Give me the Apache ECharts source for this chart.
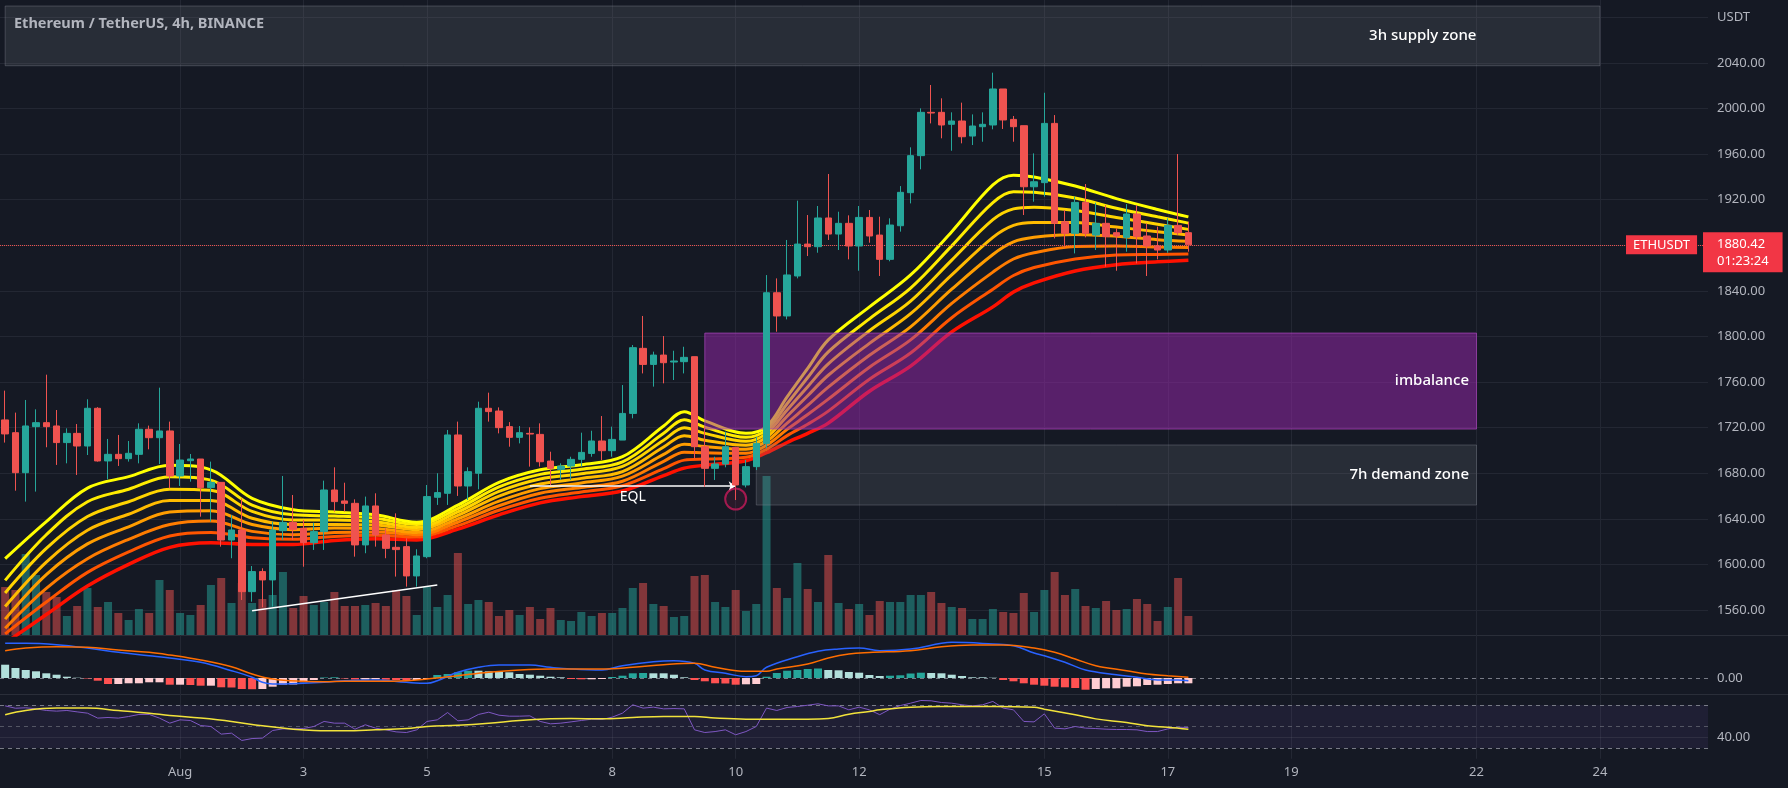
<!DOCTYPE html>
<html><head><meta charset="utf-8">
<script src="https://cdn.jsdelivr.net/npm/echarts@6/dist/echarts.min.js"></script>
<style>html,body{margin:0;padding:0;background:#151924;}#c{width:1788px;height:788px;}</style>
</head><body><div id="c"></div>
<script>
// ---------- DATA ----------
const opens = [1726.8,1715.6,1680.5,1720.9,1724.4,1721.5,1706.9,1715.0,1703.9,1737.0,
1690.8,1696.6,1692.8,1696.6,1718.6,1711.2,1717.1,1677.6,1691.0,1692.5,
1667.4,1672.0,1621.4,1630.2,1576.1,1593.7,1586.4,1629.6,1636.9,1631.7,
1619.1,1628.8,1665.3,1655.7,1653.6,1617.1,1651.3,1625.8,1615.0,1615.6,
1589.9,1606.8,1658.9,1662.4,1713.6,1668.8,1680.0,1737.0,1734.6,1720.9,
1711.5,1715.0,1714.1,1690.7,1683.4,1686.3,1692.2,1697.4,1708.3,1699.8,
1709.1,1732.5,1789.6,1775.5,1783.7,1777.6,1777.9,1782.3,1703.3,1684.3,
1688.1,1702.7,1669.7,1685.8,1706.2,1838.4,1818.0,1853.1,1881.1,1878.8,
1904.0,1889.9,1899.3,1879.4,1904.5,1889.0,1867.7,1897.2,1926.2,1958.7,
1996.7,1996.7,1986.2,1989.1,1975.9,1984.1,1985.6,2017.2,1990.5,1985.0,
1931.4,1935.0,1987.0,1900.7,1890.5,1917.7,1889.0,1899.3,1891.1,1887.0,
1907.5,1888.2,1879.4,1875.9,1897.5,1891.1];
const closes = [1714.5,1680.5,1721.5,1724.4,1720.9,1706.9,1715.0,1703.9,1737.0,1690.8,
1696.6,1692.8,1697.5,1718.6,1711.2,1717.1,1677.6,1691.6,1692.5,1667.4,
1672.0,1621.4,1630.2,1576.1,1593.7,1586.4,1630.2,1636.9,1630.8,1619.1,
1628.8,1665.3,1655.1,1653.6,1617.1,1651.3,1625.8,1614.1,1613.0,1589.9,
1607.4,1659.5,1663.0,1713.6,1668.8,1681.4,1737.0,1734.1,1720.0,1711.5,
1715.6,1714.4,1690.1,1684.3,1686.3,1692.2,1698.3,1708.3,1699.8,1709.7,
1732.5,1790.2,1775.5,1783.7,1777.0,1778.5,1781.7,1703.3,1684.3,1688.1,
1703.3,1669.7,1685.8,1706.2,1838.4,1818.0,1854.0,1881.1,1878.8,1904.0,
1889.9,1899.3,1879.4,1904.5,1888.2,1867.7,1897.8,1926.5,1958.7,1996.7,
1996.1,1985.6,1989.1,1975.3,1984.7,1986.2,2017.2,1990.0,1984.1,1931.4,
1935.8,1987.0,1899.3,1890.5,1917.7,1890.5,1899.3,1887.6,1888.2,1907.5,
1887.6,1879.4,1875.9,1897.5,1891.1,1880.42];
const lows = [1706.9,1664.7,1655.1,1663.9,1702.8,1687.3,1688.7,1678.5,1696.0,1690.2,
1674.7,1686.4,1690.2,1688.7,1701.0,1688.1,1666.8,1668.8,1672.6,1641.9,
1637.5,1615.6,1605.4,1568.8,1567.3,1562.4,1563.0,1621.4,1621.4,1598.0,
1612.7,1612.7,1646.3,1646.3,1606.8,1609.8,1615.6,1605.4,1589.3,1580.5,
1580.5,1605.4,1652.2,1652.2,1660.1,1656.5,1665.9,1725.3,1715.0,1703.3,
1706.2,1685.8,1685.8,1669.7,1674.1,1674.1,1685.8,1694.5,1691.6,1694.5,
1709.1,1728.2,1767.6,1756.0,1758.9,1761.8,1767.6,1693.1,1668.2,1674.1,
1685.2,1656.5,1667.6,1682.8,1702.0,1804.2,1815.0,1851.0,1870.6,1873.5,
1884.7,1875.9,1867.7,1857.7,1882.3,1853.1,1866.0,1892.0,1916.8,1946.7,
1987.0,1973.9,1963.0,1969.5,1968.0,1970.9,1981.8,1982.1,1970.9,1906.6,
1918.3,1922.7,1886.1,1878.2,1872.9,1887.0,1875.9,1861.3,1857.7,1874.4,
1864.2,1853.1,1867.7,1873.5,1889.0,1874.4];
const highs = [1752.5,1733.2,1744.3,1736.1,1766.5,1735.5,1719.4,1723.2,1744.9,1738.0,
1710.1,1713.6,1708.3,1723.8,1721.8,1755.1,1725.3,1705.7,1696.9,1692.5,
1690.2,1672.0,1643.4,1658.0,1598.6,1596.6,1637.5,1677.6,1660.9,1639.0,
1636.6,1673.5,1685.2,1671.7,1657.1,1659.5,1662.4,1631.7,1644.8,1622.9,
1613.3,1669.7,1680.0,1718.0,1725.3,1685.2,1742.8,1750.7,1737.8,1724.9,
1721.4,1720.3,1723.8,1698.9,1688.7,1694.5,1715.6,1717.3,1730.2,1720.9,
1757.4,1792.5,1818.0,1786.7,1800.4,1787.5,1791.0,1782.3,1720.9,1694.5,
1716.5,1702.7,1691.6,1712.1,1853.9,1851.0,1884.7,1919.2,1906.6,1914.5,
1942.6,1909.5,1906.3,1914.5,1911.0,1905.1,1903.7,1932.0,1966.0,2000.2,
2020.7,2009.0,1996.7,2005.2,1994.9,1996.7,2031.5,2017.2,1993.5,1985.0,
1960.7,2013.9,1994.3,1911.0,1922.7,1933.8,1917.4,1915.4,1894.9,1916.2,
1915.4,1899.3,1896.4,1903.7,1960.1,1900.7];
const volumesK = [48,45,81,60,43,38,19,29,47,28,33,22,15,26,22,55,45,22,20,30,
50,57,32,52,32,36,40,63,27,39,30,33,43,29,29,30,32,29,45,39,
20,48,28,40,82,31,35,33,19,25,20,28,16,27,15,14,23,19,22,22,
27,47,52,31,29,18,19,59,60,33,28,45,24,31,159,47,37,72,46,33,
80,32,26,31,20,34,33,33,40,40,43,32,28,27,16,16,26,23,22,42,
23,45,63,40,46,29,27,34,25,26,36,31,14,28,57,19];
// EMA ribbon (8 lines, fast -> slow), sampled at candle indices
const ribbonIdx = [0,4,8,12,16,20,24,28,32,36,40,44,48,52,56,60,64,66,68,72,74,76,78,80,84,88,92,96,98,100,104,108,112,115];
const ribbon1 = [1605,1637.5,1667,1677,1687,1683,1658,1648,1646,1643.5,1637,1652,1672,1683,1687.5,1694.5,1721.5,1734,1726,1715,1721,1747,1772,1797,1826,1854,1892,1933,1941.5,1940,1932,1921,1911.5,1905];
const ribbon2 = [1586,1626,1655,1666,1677,1674,1652,1643.5,1642.5,1640.5,1635,1649,1668,1679,1683.5,1690,1715,1727,1720.5,1711.5,1718,1741,1764,1786.5,1815.5,1842.5,1879.5,1917.5,1927,1926.5,1921.5,1912.5,1905,1899.5];
const ribbon3 = [1575,1614,1642,1655,1666,1665,1646.5,1639,1639,1637.5,1632.5,1646,1664,1675,1679.5,1686,1709,1720,1715,1708,1715,1735.5,1756,1776,1805,1831,1867,1902.5,1912,1913.5,1910.5,1904.5,1898.5,1894];
const ribbon4 = [1563,1602,1630,1644,1656,1656,1640.5,1635,1635,1634.5,1630.5,1643,1660,1670.5,1675.5,1681.5,1703,1713,1709,1704.5,1711.5,1730,1748,1766,1794,1820,1854,1887,1897.5,1900,1900,1896,1892,1889];
const ribbon5 = [1552,1591,1618,1633,1646,1647,1635,1630.5,1632,1631.5,1628,1640,1655.5,1666.5,1671.5,1677.5,1696.5,1705.5,1703.5,1701,1708,1724,1739.5,1755.5,1783.5,1808.5,1841.5,1872,1883,1887,1889.5,1888,1885,1883.5];
const ribbon6 = [1544,1579,1605,1622,1635,1638,1629,1626,1628,1628.5,1626,1637,1651.5,1662.5,1667.5,1673,1690.5,1698.5,1698,1697.5,1704.5,1718.5,1731.5,1745,1773,1797,1829,1856.5,1868,1873.5,1879,1879.5,1878.5,1878];
const ribbon7 = [1539,1567,1593,1611,1625,1628,1623.5,1622,1624.5,1625.5,1624,1634,1647.5,1658,1663.5,1669,1684,1691.5,1692.5,1694,1701,1713,1723,1734.5,1762.5,1785.5,1816.5,1841.5,1853.5,1860.5,1868,1871.5,1872,1872.5];
const ribbon8 = [1531,1556,1581,1600,1615,1619,1617.5,1617.5,1621,1622.5,1621.5,1631,1643.5,1654,1659.5,1664.5,1678,1684.5,1687,1691,1698,1707,1715,1724,1752,1774,1804,1826,1839,1847,1857.5,1863,1865.5,1867];
// MACD
const macdHist = [13.3,10,8,6.7,4.7,3.3,1.3,0.3,-0.5,-2.7,-6,-6,-5.3,-5.3,-4.3,-4.3,-6.7,-6.7,-7,-7.7,
-7.7,-9.3,-9.5,-11,-11.2,-11,-8.7,-6.7,-6.5,-4.3,-2,0.5,0.7,-0.5,-1.5,-1.5,-1.3,-1.7,-2,-2.3,
-2,-1,3,4,5.7,7.3,7.3,6.7,6.3,5.7,4,3.3,2.3,1.3,0.7,-1,-1.3,-1.3,-1,1,
2.3,4.7,5,4.7,4.7,3.3,0.7,-2,-3.3,-5.3,-5.5,-6.7,-6.3,-6,1.3,5,7.3,8,9,9.5,
8,7.7,6,5.3,3,2,2.3,2.7,4.5,5.3,5,4.7,3.3,2,0.7,0.7,0.3,-2,-3.3,-5.3,
-6.7,-7.7,-8.7,-9.3,-10,-11.7,-11,-10.3,-10.3,-8.7,-8.3,-7,-6.7,-6,-5.3,-5.3];
const macdLine = [[0,34.7],[2,34.7],[5,33.3],[8,30],[11,25.7],[14,22.3],[16,20],[19,15.7],[22,7.3],[24,0.7],[25,-4.3],[26,-6],[29,-5.3],[31,-4.3],[33,-2.7],[36,-2],[39,-4.3],[41,-5.3],[42,-2.7],[44,5.7],[46,10.7],[48,13],[51,13],[53,10.7],[55,9],[58,8],[60,12.3],[63,16.3],[65,17.3],[67,14.7],[68,8],[70,4.7],[72,1.3],[73,2.3],[74,10.7],[77,21.3],[79,26.7],[81,29],[83,30],[85,27.3],[88,29],[91,34.7],[92,35.7],[96,34],[98,32.3],[100,25],[101,22.3],[103,15.7],[105,8],[108,3.3],[110,0.7],[112,-2],[114,-2],[115,-2.7]];
const signalLine = [[0,27.3],[2,30],[5,31.3],[8,30.7],[11,28],[14,25.7],[16,23],[19,18],[22,11.3],[24,4],[26,-1],[29,-3.3],[31,-3.7],[33,-3.3],[36,-3.3],[39,-2.7],[41,-1],[44,2.3],[47,5.7],[50,8],[53,9],[55,9],[58,9],[61,10.7],[64,13.3],[67,14.7],[69,10.7],[72,6.7],[74,6.7],[75,9],[78,14],[80,20],[82,24],[84,25.5],[88,27.3],[91,31.3],[94,33],[97,33],[100,30],[102,25.7],[104,19],[106,12.3],[109,7.3],[111,4],[113,2.3],[115,0.7]];
// RSI
const rsi = [69.2,67,67.4,66.4,64.9,64.3,64.9,63.6,62.4,57.8,
58.4,57.8,59.3,61.2,61.2,57.8,53.1,56.2,55.6,50.9,
50,42.9,43.8,37,38.8,39.2,46.3,47.8,47.8,48.1,
50,54.7,53.1,53.1,47.5,51.6,48.5,46.9,45,44.4,
46.9,54.7,56.2,63,55.3,56.2,61.2,63.3,60.5,59.6,
59.6,59.9,54.7,52.5,53.1,54.3,55.6,56.8,56.5,58.7,
62.4,70.2,67.1,68,66.4,66.7,66.4,46.9,44.4,45.3,
46.9,42.3,45.3,50,67.1,64.9,67.7,68.6,69.8,71.1,
69.2,69.2,65.5,68,65.5,61,66.1,69.5,71.7,74.2,
73.9,72.3,71.7,70.2,69.2,70.2,73.3,67.1,65.5,54.7,
54.3,61.8,48.5,47.8,50,48.5,48.1,47.5,47.2,47.2,
46.9,45.3,45.3,47.8,49.4,49];
const rsiMA = [[0,60.9],[2,64.9],[5,67.1],[8,67.1],[11,64.9],[14,62.4],[16,60.2],[19,57.8],[22,54.7],[25,50.6],[28,47.5],[30,46.3],[33,46],[36,46.9],[39,48.1],[41,50],[44,51.2],[47,53.1],[50,55.6],[53,57.1],[55,57.4],[58,57.1],[61,58.4],[64,59.3],[67,59.3],[69,57.8],[72,56.8],[75,56.8],[78,56.8],[80,57.4],[82,61.5],[84,64],[85,65.5],[88,68],[91,68.6],[96,68.6],[100,68],[101,66.1],[104,60.9],[106,57.1],[109,53.7],[111,50.6],[113,49.4],[115,47.5]];
// axis labels
const dayLabels = ['Aug','3','5','8','10','12','15','17','19','22','24'];
const dayLabelIdx = [17,29,41,59,71,83,101,113,125,143,155];
const priceTickLabels = ['1560.00','1600.00','1640.00','1680.00','1720.00','1760.00','1800.00','1840.00','1880.00','1920.00','1960.00','2000.00','2040.00','USDT'];
const lastPrice = 1880.42, lastCountdown = '01:23:24', symbolName = 'ETHUSDT';
// annotations (data coordinates)
const zones = [
  {name:'3h supply zone', from:0, to:155, top:2090, bottom:2037.6, kind:'gray', labelOffset:-119},
  {name:'imbalance', from:68, to:143, top:1803, bottom:1718.8, kind:'purple', labelOffset:-3},
  {name:'7h demand zone', from:73, to:143, top:1704.8, bottom:1652.1, kind:'gray', labelOffset:-3}
];
const eqlLine = {from:51, to:71, price:1668.8};
const trendLine = {from:24, p1:1559.4, to:42, p2:1581.9};
const eqlCircle = {idx:71, price:1657.4};

// ---------- CHART ----------
const N = 166;
const start = Date.UTC(2023,6,29,4);
const cats = [];
for (let k=0;k<N;k++){ cats.push(new Date(start+k*4*3600e3).toISOString().slice(0,13)); }

const UP='#26a69a', DN='#ef5350', TXT='#b2b5be', GRID='#232733';
const FONT='Noto Sans';
const L=-1.2, R=80;
const chart = echarts.init(document.getElementById('c'));

const xa = (g, extra)=>Object.assign({type:'category', gridIndex:g, data:cats, boundaryGap:true, show:false}, extra||{});
const series = [];

// volume
series.push({type:'bar', xAxisIndex:2, yAxisIndex:2, barWidth:8, z:1, silent:true,
  data: volumesK.map((v,i)=>({value:v, itemStyle:{color: closes[i]>=opens[i]?'rgba(38,166,154,0.5)':'rgba(239,83,80,0.5)'}}))});

// ribbon
const ribbons=[ribbon1,ribbon2,ribbon3,ribbon4,ribbon5,ribbon6,ribbon7,ribbon8];
const ribbonColors=['#ffff00','#ffeb00','#ffd400','#ffbb00','#ff9d00','#ff7c00','#ff5500','#ff1100'];
for (let k=7;k>=0;k--){
  series.push({type:'line', xAxisIndex:0, yAxisIndex:0, smooth:0.35, symbol:'none', silent:true, z:2,
    lineStyle:{color:ribbonColors[k], width:k===7?3.5:3},
    data: ribbonIdx.map((i,j)=>[cats[i], ribbons[k][j]])});
}

// zones
series.push({type:'line', xAxisIndex:0, yAxisIndex:0, data:[], silent:true,
  markArea:{z:3, silent:true, data: zones.map(zn=>[
    {xAxis:cats[zn.from], yAxis:zn.top,
     itemStyle: zn.kind==='purple'?{color:'rgba(156,39,176,0.5)', borderColor:'rgba(171,71,188,0.7)', borderWidth:1}:{color:'rgba(120,123,134,0.2)', borderColor:'rgba(140,143,154,0.35)', borderWidth:1},
     label:{show:true, position:'insideRight', offset:[zn.labelOffset,0], color:'#ffffff', fontSize:15, fontWeight:500, fontFamily:FONT, formatter:zn.name}},
    {xAxis:cats[zn.to], yAxis:zn.bottom}])}});

// candles
series.push({type:'candlestick', xAxisIndex:0, yAxisIndex:0, barWidth:7, z:5, silent:true,
  itemStyle:{color:UP, color0:DN, borderColor:UP, borderColor0:DN, borderWidth:1},
  data: opens.map((o,i)=>[o, closes[i], lows[i], highs[i]]),
  markLine:{silent:true, symbol:['none','none'], animation:false, data:[
    {yAxis:lastPrice, lineStyle:{color:'rgba(239,83,80,0.85)', type:'dotted', width:1},
     label:{show:true, position:'end', distance:0, offset:[-5,7.5], formatter:lastPrice.toFixed(2)+'\n'+lastCountdown,
       backgroundColor:'#f23645', color:'#ffffff', fontSize:13, lineHeight:17, fontFamily:FONT, padding:[3,14,3,14]}},
    {yAxis:lastPrice, lineStyle:{color:'rgba(239,83,80,0.85)', type:'dotted', width:1},
     label:{show:true, position:'end', distance:0, offset:[-82,0], formatter:symbolName,
       backgroundColor:'#f23645', color:'#ffffff', fontSize:13, fontFamily:FONT, padding:[3,7,3,7]}},
    [{coord:[cats[eqlLine.from], eqlLine.price], symbol:'none', lineStyle:{color:'#ffffff', width:1.5, type:'solid'},
      label:{show:true, position:'insideMiddleBottom', formatter:'EQL', color:'#ffffff', fontSize:14, fontFamily:FONT, distance:4}},
     {coord:[cats[eqlLine.to], eqlLine.price], symbol:'arrow', symbolSize:7}],
    [{coord:[cats[trendLine.from], trendLine.p1], symbol:'none', lineStyle:{color:'#ffffff', width:1.5, type:'solid'}, label:{show:false}},
     {coord:[cats[trendLine.to], trendLine.p2], symbol:'none'}]
  ]}});

// circle
series.push({type:'scatter', xAxisIndex:0, yAxisIndex:0, z:6, silent:true, symbolSize:21,
  itemStyle:{color:'rgba(233,30,99,0.12)', borderColor:'rgba(216,27,96,0.9)', borderWidth:2},
  data:[[cats[eqlCircle.idx], eqlCircle.price]]});

// MACD
series.push({type:'bar', xAxisIndex:3, yAxisIndex:3, barWidth:8, silent:true, z:2,
  data: macdHist.map((v,i)=>{const p=i>0?macdHist[i-1]:Infinity; const c = v>=0?(v>p?'#26a69a':'#b2dfdb'):(v<p?'#ff5252':'#ffcdd2'); return {value:v, itemStyle:{color:c}};}),
  markLine:{silent:true, symbol:['none','none'], z:1, label:{show:false}, lineStyle:{color:'#787b86', type:[4,4], width:1}, data:[{yAxis:0}]}});
series.push({type:'line', xAxisIndex:3, yAxisIndex:3, smooth:0.4, symbol:'none', silent:true, z:4,
  lineStyle:{color:'#2962ff', width:1.5}, data: macdLine.map(d=>[cats[d[0]], d[1]])});
series.push({type:'line', xAxisIndex:3, yAxisIndex:3, smooth:0.4, symbol:'none', silent:true, z:4,
  lineStyle:{color:'#ff6d00', width:1.5}, data: signalLine.map(d=>[cats[d[0]], d[1]])});

// RSI
series.push({type:'line', xAxisIndex:4, yAxisIndex:4, symbol:'none', silent:true, z:3,
  lineStyle:{color:'#7e57c2', width:1}, data: rsi,
  markArea:{z:1, silent:true, itemStyle:{color:'rgba(126,87,194,0.1)'}, data:[[{yAxis:70},{yAxis:30}]]},
  markLine:{silent:true, symbol:['none','none'], z:2, label:{show:false}, data:[
    {yAxis:70, lineStyle:{color:'#787b86', type:[4,4], width:1}},
    {yAxis:50, lineStyle:{color:'rgba(120,123,134,0.6)', type:[4,4], width:1}},
    {yAxis:30, lineStyle:{color:'#787b86', type:[4,4], width:1}},
    {yAxis:40, lineStyle:{color:'rgba(120,123,134,0.18)', type:'solid', width:1}}]}});
series.push({type:'line', xAxisIndex:4, yAxisIndex:4, smooth:0.4, symbol:'none', silent:true, z:4,
  lineStyle:{color:'#f2e33b', width:1.5}, data: rsiMA.map(d=>[cats[d[0]], d[1]])});

// vertical grid lines
series.push({type:'line', xAxisIndex:5, yAxisIndex:5, data:[], silent:true,
  markLine:{silent:true, z:0, symbol:['none','none'], label:{show:false}, lineStyle:{color:GRID, type:'solid', width:1},
    data: dayLabelIdx.map(i=>({xAxis:cats[i]}))}});

const option = {
  backgroundColor:'#151924',
  animation:false,
  textStyle:{fontFamily:FONT},
  title:{text:'Ethereum / TetherUS, 4h, BINANCE', left:9, top:11, textStyle:{color:TXT, fontSize:14.5, fontWeight:'bold', fontFamily:FONT}},
  grid:[
    {left:L, right:R, top:0, bottom:153},
    {left:L, right:R, top:0, bottom:132.42},
    {left:L, right:R, top:435, bottom:153},
    {left:L, right:R, top:635, bottom:94},
    {left:L, right:R, top:694.25, bottom:29.25},
    {left:L, right:R, top:0, bottom:29.25}
  ],
  xAxis:[xa(0), xa(1), xa(2), xa(3),
    xa(4,{show:true, axisLine:{show:false}, axisTick:{show:false}, splitLine:{show:false},
      axisLabel:{show:true, color:TXT, fontSize:13, fontFamily:FONT, margin:7,
        interval:(idx)=>dayLabelIdx.indexOf(idx)>=0,
        formatter:(v,idx)=>{const k=dayLabelIdx.indexOf(idx); return k>=0?dayLabels[k]:'';}}}),
    xa(5)],
  yAxis:[
    {type:'value', gridIndex:0, min:1538.06, max:2095.28, show:false},
    {type:'value', gridIndex:1, position:'right', min:1520, max:2095.28, interval:40,
      axisLine:{show:false}, axisTick:{show:false},
      axisLabel:{color:TXT, fontSize:13, fontFamily:FONT, margin:9, showMinLabel:false, showMaxLabel:false,
        formatter:(v)=>{const k=Math.round((v-1560)/40); return (Math.abs(v-1560-40*k)<0.01 && k>=0 && k<priceTickLabels.length)?priceTickLabels[k]:'';}},
      splitLine:{show:true, showMinLine:false, showMaxLine:false, lineStyle:{color:GRID, width:1}}},
    {type:'value', gridIndex:2, min:0, max:200, show:false},
    {type:'value', gridIndex:3, position:'right', min:-16, max:43, interval:2,
      axisLine:{show:false}, axisTick:{show:false}, splitLine:{show:false},
      axisLabel:{color:TXT, fontSize:13, fontFamily:FONT, margin:9, formatter:(v)=>v===0?'0.00':''}},
    {type:'value', gridIndex:4, position:'right', min:20, max:80, interval:20,
      axisLine:{show:false}, axisTick:{show:false}, splitLine:{show:false},
      axisLabel:{color:TXT, fontSize:13, fontFamily:FONT, margin:9, formatter:(v)=>v===40?'40.00':''}},
    {type:'value', gridIndex:5, min:0, max:1, show:false}
  ],
  graphic:[
    {type:'line', shape:{x1:0, y1:635.5, x2:1788, y2:635.5}, style:{stroke:'#2a2e39', lineWidth:1}, silent:true},
    {type:'line', shape:{x1:0, y1:694.5, x2:1788, y2:694.5}, style:{stroke:'#2a2e39', lineWidth:1}, silent:true}
  ],
  series
};
chart.setOption(option);
</script></body></html>
